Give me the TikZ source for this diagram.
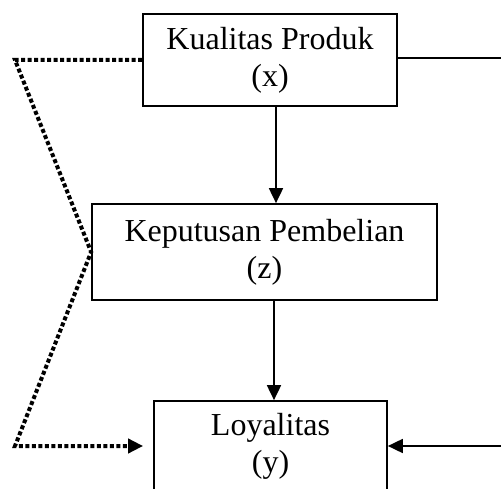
\documentclass[tikz,border=0pt]{standalone}
\usepackage{fontspec}
\setmainfont{Liberation Serif}
\usetikzlibrary{arrows.meta}

\tikzset{
  kotak/.style={draw, line width=1.7pt, align=center, inner sep=0pt,
    font=\fontsize{32}{37}\selectfont},
  panah/.style={-{Triangle[length=15pt,width=14pt]}, line width=1.8pt},
  titik/.style={line width=4pt, dash pattern=on 4pt off 2.5pt}
}

\begin{document}
\begin{tikzpicture}[x=1pt,y=-1pt]
	\useasboundingbox (0,0) rectangle (501,489);

	\node [kotak, minimum width=254pt, minimum height=92pt] (kp) at (270,60) {Kualitas Produk\\(x)};
	\node [kotak, minimum width=345pt, minimum height=96pt] (kep) at (264.5,252) {Keputusan Pembelian\\(z)};
	\node [kotak, minimum width=233pt, minimum height=90pt] (loy) at (270.5,446) {Loyalitas\\(y)};

	% jalur langsung ke kanan
	\coordinate (ka1) at (512,58);
	\coordinate (ka2) at (512,446);

	% jalur titik-titik ke kiri
	\coordinate (ki1) at (15,60);
	\coordinate (ki2) at (15,446);

	\draw [panah] ([xshift=6pt]kp.south) -- ([xshift=6pt]kp.south |- kep.north);
	\draw [panah] ([xshift=9.5pt]kep.south) -- ([xshift=9.5pt]kep.south |- loy.north);

	\draw [panah] (kp.east |- ka1) -- (ka1) -- (ka2) -- (loy.east);
	\draw [titik, -{Triangle[length=15pt,width=14pt]}, shorten >=10pt] (kp.west) -- (ki1) -- (kep.west) -- (ki2) -- (loy.west);

\end{tikzpicture}
\end{document}
